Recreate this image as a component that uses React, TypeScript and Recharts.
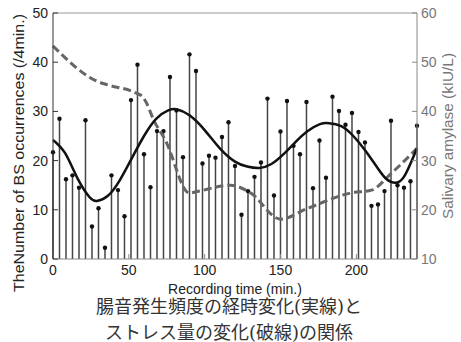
import { ComposedChart, Bar, Line, XAxis, YAxis, ReferenceLine, Label } from "recharts";

// bowel sound counts, one stem per recording window
const stemTimes = [
  0, 4.29, 8.57, 12.86, 17.14, 21.43, 25.71, 30, 34.29, 38.57, 42.86, 47.14, 51.43, 55.71, 60,
  64.29, 68.57, 72.86, 77.14, 81.43, 85.71, 90, 94.29, 98.57, 102.86, 107.14, 111.43, 115.71, 120,
  124.29, 128.57, 132.86, 137.14, 141.43, 145.71, 150, 154.29, 158.57, 162.86, 167.14, 171.43,
  175.71, 180, 184.29, 188.57, 192.86, 197.14, 201.43, 205.71, 210, 214.29, 218.57, 222.86,
  227.14, 231.43, 235.71, 240,
];
const bsCounts = [
  21.7, 28.5, 16.2, 17.0, 14.5, 28.2, 6.6, 10.3, 2.3, 17.0, 14.0, 8.7, 32.3, 39.5, 21.3,
  14.6, 26.0, 26.0, 37.0, 30.2, 20.7, 41.6, 38.2, 19.4, 21.0, 20.6, 24.8, 27.8, 18.9,
  9.0, 13.8, 16.7, 19.6, 32.6, 12.9, 25.9, 32.1, 23.0, 21.3, 31.9, 14.4,
  24.1, 16.5, 33.0, 30.1, 27.3, 29.7, 25.8, 23.7, 10.8, 11.1, 13.8, 28.1,
  15.0, 14.5, 15.8, 27.1,
];

// smooth fit through the counts (solid line)
const fitTimes = [0, 8, 16, 24, 29, 36, 44, 52, 60, 68, 76, 82, 90, 100, 110, 120, 128, 136, 144, 152, 160, 168, 176, 182, 190, 198, 206, 214, 220, 226, 232, 240];
const fitValues = [24.2, 21.5, 16.5, 12.6, 11.8, 12.8, 16, 20.5, 25, 28.5, 30.2, 30.4, 29.2, 26.2, 22.5, 19.8, 18.8, 18.5, 19.3, 21.3, 23.8, 26, 27.4, 27.6, 27, 25, 22, 18.5, 16.2, 15.5, 17, 22.5];

// salivary amylase (dashed line, right axis)
const amylaseTimes = [0, 30, 36, 55, 59, 62, 66, 74, 90, 95, 117, 130, 150, 168, 196, 210, 223, 240];
const amylaseValues = [53.3, 46, 45.4, 43.7, 43, 41.5, 38.5, 34.2, 23.4, 23.7, 25, 23.5, 18.1, 20.3, 23.4, 24, 27.4, 32.5];

const xTicks = [0, 50, 100, 150, 200];
const leftTicks = [0, 10, 20, 30, 40, 50];
const rightTicks = [10, 20, 30, 40, 50, 60];

const captionLines = ["腸音発生頻度の経時変化(実線)と", "ストレス量の変化(破線)の関係"];

const stemData = stemTimes.map((t, i) => ({ t, count: bsCounts[i] }));
const fitData = fitTimes.map((t, i) => ({ t, v: fitValues[i] }));
const amylaseData = amylaseTimes.map((t, i) => ({ t, v: amylaseValues[i] }));

const font = "'Liberation Sans', Arial, sans-serif";

const Stem = (props: any) => {
  const { x, y, width, height } = props;
  const cx = x + width / 2;
  return (
    <g>
      <line x1={cx} x2={cx} y1={y} y2={y + height} stroke="#444" strokeWidth={1.5} />
      <circle cx={cx} cy={y} r={2.2} fill="#111" />
    </g>
  );
};

// rotated axis title; the source picture is a bit stretched vertically, so fix its length
const sideLabel = (text: string, dx: number, dy: number, len: number, color: string) => (props: any) => {
  const vb = props.viewBox;
  const x = vb.x + dx;
  const y = vb.y + vb.height / 2 + dy;
  return (
    <text x={x} y={y} transform={`rotate(-90 ${x} ${y})`} textAnchor="middle" dominantBaseline="central"
      fontSize={15} fontFamily={font} fill={color} textLength={len} lengthAdjust="spacingAndGlyphs">
      {text}
    </text>
  );
};

export default function App() {
  return (
    <div style={{ position: "absolute", left: 0, top: 0, width: 461, height: 342, background: "#fff", overflow: "hidden" }}>
      <ComposedChart width={461} height={305} data={stemData} margin={{ top: 13, right: 0, bottom: 0, left: 0 }}>
        <XAxis
          dataKey="t"
          type="number"
          domain={[0, 240]}
          ticks={xTicks}
          tickSize={-5}
          tickMargin={11}
          height={46}
          stroke="#888"
          tick={{ fontSize: 14, fontFamily: font, fill: "#222" }}
        >
          <Label value="Recording time (min.)" position="insideBottom" offset={11}
            style={{ fontSize: 14, fontFamily: font, fill: "#222" }} />
        </XAxis>
        <YAxis
          yAxisId="left"
          domain={[0, 50]}
          ticks={leftTicks}
          width={53}
          tickSize={-5}
          tickMargin={10}
          stroke="#333"
          tick={{ fontSize: 14, fontFamily: font, fill: "#222" }}
        >
          <Label content={sideLabel("TheNumber of BS occurrences (/4min.)", 18, 17, 278, "#222")} />
        </YAxis>
        <YAxis
          yAxisId="right"
          orientation="right"
          domain={[10, 60]}
          ticks={rightTicks}
          width={44}
          tickSize={-5}
          tickMargin={9}
          stroke="#888"
          tick={{ fontSize: 14, fontFamily: font, fill: "#777" }}
        >
          <Label content={sideLabel("Salivary amylase (kIU/L)", 30, 0, 166, "#777")} />
        </YAxis>
        <ReferenceLine yAxisId="left" y={50} stroke="#999" />
        <Bar yAxisId="left" dataKey="count" barSize={2} shape={<Stem />} isAnimationActive={false} />
        <Line yAxisId="right" data={amylaseData} dataKey="v" type="monotone" stroke="#666"
          strokeWidth={3} strokeDasharray="8 4" dot={false} isAnimationActive={false} />
        <Line yAxisId="left" data={fitData} dataKey="v" type="natural" stroke="#111"
          strokeWidth={2.5} dot={false} isAnimationActive={false} />
      </ComposedChart>
      {captionLines.map((line, i) => (
        <div key={i} style={{
          position: "absolute", left: 0, top: 298 + i * 26, width: 458, textAlign: "center",
          fontFamily: "'DejaVu Serif', 'Noto Sans CJK JP', serif", fontSize: 18, lineHeight: "18px", color: "#333",
        }}>
          {line}
        </div>
      ))}
    </div>
  );
}
